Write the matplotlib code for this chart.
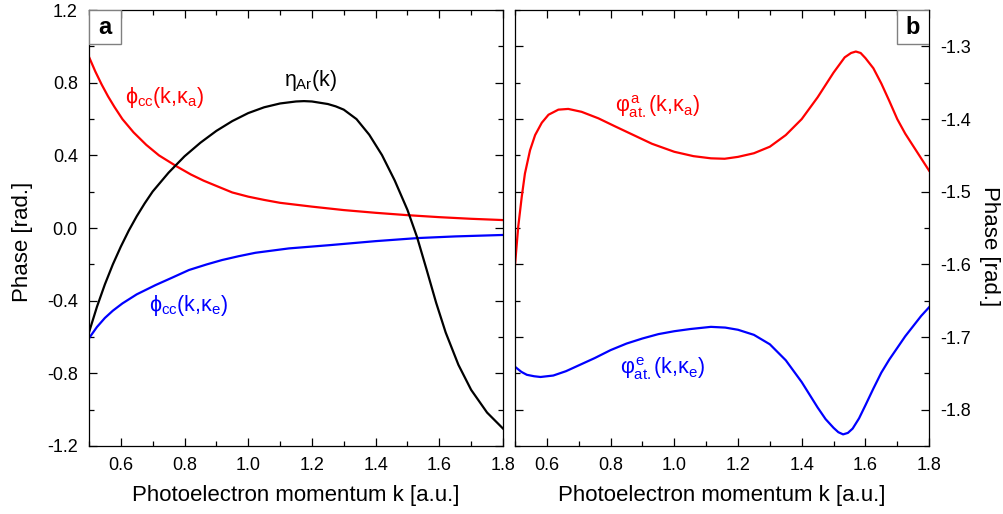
import matplotlib
matplotlib.use("Agg")
import matplotlib.pyplot as plt
from matplotlib.patches import Rectangle
from matplotlib.ticker import MultipleLocator, FormatStrFormatter

plt.rcParams["font.family"] = ["Liberation Sans", "DejaVu Sans"]
plt.rcParams["mathtext.fontset"] = "custom"
plt.rcParams["mathtext.rm"] = "Liberation Sans"
plt.rcParams["mathtext.it"] = "Liberation Sans"
plt.rcParams["mathtext.bf"] = "Liberation Sans:bold"
plt.rcParams["axes.unicode_minus"] = False

# ---------------------------------------------------------------------------
# Data
# ---------------------------------------------------------------------------

# panel a : eta_Ar(k)
k_eta = [0.50, 0.525, 0.55, 0.575, 0.60, 0.625, 0.65, 0.675, 0.70, 0.75, 0.80,
         0.85, 0.90, 0.95, 1.00, 1.05, 1.10, 1.15, 1.175, 1.20, 1.25, 1.275, 1.30,
         1.34, 1.38, 1.42, 1.46, 1.50, 1.53, 1.56, 1.59, 1.62, 1.66, 1.70, 1.75,
         1.80]
eta_ar = [-0.575, -0.434, -0.31, -0.20, -0.1025, -0.014, 0.065, 0.136, 0.201,
          0.305, 0.395, 0.47, 0.535, 0.589, 0.633, 0.665, 0.686, 0.697, 0.699,
          0.697, 0.683, 0.670, 0.652, 0.600, 0.514, 0.402, 0.262, 0.100, -0.049,
          -0.228, -0.411, -0.575, -0.753, -0.891, -1.016, -1.104]

# panel a : phi_cc(k, kappa_a)
k_cc_a = [0.50, 0.52, 0.54, 0.56, 0.58, 0.605, 0.64, 0.68, 0.72, 0.777, 0.82,
          0.86, 0.90, 0.95, 1.00, 1.05, 1.10, 1.20, 1.30, 1.40, 1.50, 1.60, 1.70,
          1.80]
phi_cc_a = [0.943, 0.862, 0.790, 0.725, 0.667, 0.60, 0.527, 0.458, 0.40, 0.338,
            0.295, 0.261, 0.232, 0.196, 0.173, 0.155, 0.139, 0.118, 0.099, 0.084,
            0.071, 0.060, 0.051, 0.044]

# panel a : phi_cc(k, kappa_e)
k_cc_e = [0.50, 0.525, 0.55, 0.575, 0.605, 0.65, 0.709, 0.76, 0.814, 0.87, 0.918,
          0.97, 1.023, 1.128, 1.256, 1.40, 1.533, 1.65, 1.80]
phi_cc_e = [-0.607, -0.545, -0.495, -0.455, -0.415, -0.365, -0.314, -0.274, -0.231,
            -0.20, -0.176, -0.155, -0.136, -0.112, -0.094, -0.072, -0.055, -0.046,
            -0.038]

# panel b : phi_at^a(k, kappa_a)
k_at_a = [0.50, 0.51, 0.521, 0.531, 0.547, 0.563, 0.584, 0.605, 0.636, 0.667, 0.709,
          0.762, 0.814, 0.872, 0.93, 1.00, 1.06, 1.115, 1.158, 1.20, 1.25, 1.30,
          1.35, 1.40, 1.45, 1.50, 1.535, 1.555, 1.57, 1.585, 1.60, 1.625, 1.65,
          1.675, 1.70, 1.725, 1.75, 1.775, 1.80]
phi_at_a = [-1.60, -1.548, -1.507, -1.475, -1.443, -1.422, -1.405, -1.394, -1.387,
            -1.386, -1.39, -1.399, -1.41, -1.422, -1.434, -1.445, -1.451, -1.454,
            -1.4546, -1.452, -1.447, -1.438, -1.422, -1.40, -1.37, -1.336, -1.315,
            -1.309, -1.307, -1.309, -1.316, -1.33, -1.351, -1.375, -1.40, -1.42,
            -1.437, -1.454, -1.471]

# panel b : phi_at^e(k, kappa_e)
k_at_e = [0.50, 0.52, 0.537, 0.56, 0.58, 0.62, 0.66, 0.70, 0.75, 0.80, 0.85, 0.90,
          0.95, 1.00, 1.05, 1.115, 1.16, 1.20, 1.25, 1.30, 1.35, 1.40, 1.45, 1.475,
          1.50, 1.515, 1.53, 1.545, 1.56, 1.58, 1.60, 1.625, 1.65, 1.675, 1.70,
          1.725, 1.75, 1.775, 1.80]
phi_at_e = [-1.741, -1.748, -1.752, -1.754, -1.755, -1.753, -1.747, -1.739, -1.729,
            -1.718, -1.709, -1.702, -1.696, -1.692, -1.689, -1.686, -1.687, -1.690,
            -1.697, -1.710, -1.732, -1.762, -1.797, -1.813, -1.825, -1.831, -1.834,
            -1.832, -1.826, -1.812, -1.794, -1.771, -1.749, -1.731, -1.715, -1.699,
            -1.685, -1.671, -1.659]

XLABEL = "Photoelectron momentum k [a.u.]"
YLABEL = "Phase [rad.]"
RED, BLUE = "#ff0000", "#0000ff"


def _style(ax):
    ax.set_xlim(0.5, 1.8)
    ax.xaxis.set_major_locator(MultipleLocator(0.2))
    ax.xaxis.set_minor_locator(MultipleLocator(0.1))
    ax.xaxis.set_major_formatter(FormatStrFormatter("%.1f"))
    ax.yaxis.set_major_formatter(FormatStrFormatter("%.1f"))
    ax.tick_params(which="both", direction="in", top=True, bottom=True,
                   left=True, right=True, width=0.9, labelsize=13, pad=8)
    ax.tick_params(which="major", length=6)
    ax.tick_params(which="minor", length=3.5)
    for s in ax.spines.values():
        s.set_linewidth(0.9)
    ax.set_xlabel(XLABEL, fontsize=16, labelpad=8)


def _panel_tag(ax, tag, left):
    w, h = 0.0773, 0.078
    x0 = 0.0 if left else 1.0 - w
    ax.add_patch(Rectangle((x0, 1.0 - h), w, h, transform=ax.transAxes,
                           fc="white", ec="#808080", lw=1.0, zorder=5))
    ax.text(x0 + w / 2, 1.0 - h / 2, tag, transform=ax.transAxes, ha="center",
            va="center", fontsize=17, fontweight="bold", zorder=6)


fig = plt.figure(figsize=(10.04, 5.14), dpi=100)
ax_a = fig.add_axes([0.0886, 0.1323, 0.4124, 0.848])
ax_b = fig.add_axes([0.513, 0.1323, 0.4124, 0.848])
lw = 1.6

# ---- panel a
ax_a.plot(k_cc_a, phi_cc_a, color=RED, lw=lw)
ax_a.plot(k_cc_e, phi_cc_e, color=BLUE, lw=lw)
ax_a.plot(k_eta, eta_ar, color="black", lw=lw)
ax_a.set_ylim(-1.2, 1.2)
ax_a.yaxis.set_major_locator(MultipleLocator(0.4))
ax_a.yaxis.set_minor_locator(MultipleLocator(0.2))
_style(ax_a)
ax_a.set_ylabel(YLABEL, fontsize=16)
ax_a.yaxis.set_label_coords(-0.135, 0.468)

ax_a.text(0.613, 0.72, r"$\phi_{\rm cc}(\rm k{,}\kappa_{\rm a})$", color=RED,
          fontsize=15.5, va="center", ha="left")
ax_a.text(1.113, 0.815, r"$\eta_{\rm Ar}(\rm k)$", color="black",
          fontsize=15.5, va="center", ha="left")
ax_a.text(0.69, -0.424, r"$\phi_{\rm cc}(\rm k{,}\kappa_{\rm e})$", color=BLUE,
          fontsize=15.5, va="center", ha="left")
_panel_tag(ax_a, "a", True)

# ---- panel b
ax_b.plot(k_at_a, phi_at_a, color=RED, lw=lw)
ax_b.plot(k_at_e, phi_at_e, color=BLUE, lw=lw)
ax_b.set_ylim(-1.85, -1.25)
ax_b.yaxis.set_major_locator(MultipleLocator(0.1))
ax_b.yaxis.set_minor_locator(MultipleLocator(0.05))
_style(ax_b)
ax_b.tick_params(labelleft=False, labelright=True)
# right-hand axis title, placed in figure coordinates
fig.text(0.986, 0.521, YLABEL, fontsize=16, rotation=-90, ha="center", va="center")

ax_b.text(0.814, -1.383, r"$\varphi^{\rm a}_{\rm at.}(\rm k{,}\kappa_{\rm a})$",
          color=RED, fontsize=15.5, va="center", ha="left")
ax_b.text(0.83, -1.743, r"$\varphi^{\rm e}_{\rm at.}(\rm k{,}\kappa_{\rm e})$",
          color=BLUE, fontsize=15.5, va="center", ha="left")
_panel_tag(ax_b, "b", False)

fig.savefig("out.png", dpi=100, facecolor="white")
